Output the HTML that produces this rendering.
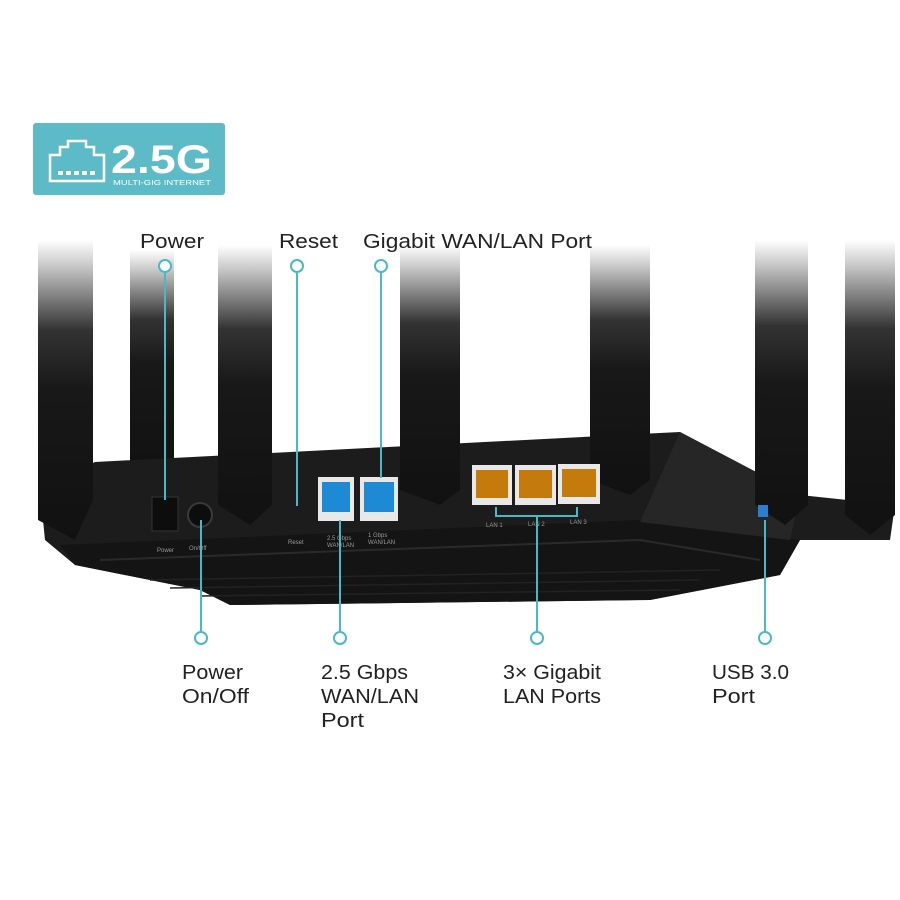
<!DOCTYPE html>
<html><head><meta charset="utf-8"><style>
html,body{margin:0;padding:0;background:#fff}
svg{display:block}
text{font-family:"Liberation Sans",sans-serif}
</style></head><body>
<svg width="900" height="900" viewBox="0 0 900 900" xmlns="http://www.w3.org/2000/svg">
<defs>
<linearGradient id="ant" x1="0" y1="0" x2="0" y2="1">
<stop offset="0" stop-color="#fff"/><stop offset="0.08" stop-color="#ccc"/><stop offset="0.3" stop-color="#333"/><stop offset="0.5" stop-color="#181818"/><stop offset="1" stop-color="#111"/>
</linearGradient>
</defs>
<rect x="33" y="123" width="192" height="72" rx="3" fill="#5cbbc7"/>
<path d="M50 155 h10 v-8 h8 v-6 h18 v6 h8 v8 h10 v26 h-54 z" fill="none" stroke="#fff" stroke-width="2.5"/>
<g fill="#fff"><rect x="58" y="171" width="5" height="4"/><rect x="66" y="171" width="5" height="4"/><rect x="74" y="171" width="5" height="4"/><rect x="82" y="171" width="5" height="4"/><rect x="90" y="171" width="5" height="4"/></g>
<text x="111" y="173" font-size="40" fill="#fff" textLength="101" lengthAdjust="spacingAndGlyphs" style="font-weight:600">2.5G</text>
<text x="113" y="185" font-size="7.5" fill="#fff" textLength="98" lengthAdjust="spacingAndGlyphs">MULTI-GIG INTERNET</text>

<rect x="130" y="250" width="44" height="230" fill="url(#ant)"/>
<path d="M40 490 L95 462 L680 432 L800 495 L895 505 L890 540 L800 540 L780 575 L650 600 L230 605 L200 590 L75 565 L45 540 Z" fill="#1c1c1c"/>
<path d="M60 545 L640 520 L800 540 L780 575 L650 600 L230 605 L200 590 L75 565 Z" fill="#141414"/>
<path d="M680 432 L800 495 L790 540 L640 522 Z" fill="#262626"/>
<path d="M100 560 L640 540 L760 560" stroke="#2a2a2a" stroke-width="2" fill="none"/>
<g stroke="#222" stroke-width="1.5">
<line x1="150" y1="580" x2="720" y2="570"/><line x1="170" y1="588" x2="700" y2="580"/><line x1="200" y1="596" x2="680" y2="590"/>
</g>
<g fill="url(#ant)">
<path d="M38 240 H93 V500 L75 540 L38 520 Z"/>
<path d="M218 245 H272 V505 L250 525 L218 505 Z"/>
<path d="M400 245 H460 V490 L440 505 L400 490 Z"/>
<path d="M590 245 H650 V480 L630 495 L590 480 Z"/>
<path d="M755 240 H808 V505 L785 525 L755 505 Z"/>
<path d="M845 240 H895 V515 L870 535 L845 515 Z"/>
</g>
<rect x="152" y="497" width="26" height="34" fill="#0d0d0d" stroke="#333"/>
<circle cx="200" cy="515" r="12" fill="#0d0d0d" stroke="#3a3a3a" stroke-width="2"/>
<rect x="318" y="477" width="36" height="44" fill="#e8e8e8"/><rect x="322" y="482" width="28" height="30" fill="#1e8ad6"/>
<rect x="360" y="477" width="38" height="44" fill="#e8e8e8"/><rect x="364" y="482" width="30" height="30" fill="#1e8ad6"/>
<rect x="472" y="465" width="40" height="40" fill="#e8e8e8"/><rect x="476" y="470" width="32" height="28" fill="#c57a0c"/>
<rect x="515" y="465" width="41" height="40" fill="#e8e8e8"/><rect x="519" y="470" width="33" height="28" fill="#c57a0c"/>
<rect x="558" y="464" width="42" height="40" fill="#e8e8e8"/><rect x="562" y="469" width="34" height="28" fill="#c57a0c"/>
<rect x="758" y="505" width="10" height="12" fill="#2a7fd0"/>
<g fill="#999" font-size="6"><text x="157" y="552">Power</text><text x="189" y="550">On/Off</text><text x="288" y="544">Reset</text><text x="327" y="540">2.5 Gbps</text><text x="327" y="547">WAN/LAN</text><text x="368" y="537">1 Gbps</text><text x="368" y="544">WAN/LAN</text><text x="486" y="527">LAN 1</text><text x="528" y="526">LAN 2</text><text x="570" y="524">LAN 3</text></g>

<g stroke="#48b9c6" stroke-width="2" fill="#fff">
<line x1="165" y1="272" x2="165" y2="500"/>
<line x1="297" y1="272" x2="297" y2="506"/>
<line x1="381" y1="272" x2="381" y2="478"/>
<line x1="201" y1="632" x2="201" y2="520"/>
<line x1="340" y1="632" x2="340" y2="520"/>
<line x1="537" y1="632" x2="537" y2="516"/>
<polyline points="496,507 496,516 577,516 577,507" fill="none"/>
<line x1="765" y1="632" x2="765" y2="520"/>
<circle cx="165" cy="266" r="6"/><circle cx="297" cy="266" r="6"/><circle cx="381" cy="266" r="6"/>
<circle cx="201" cy="638" r="6"/><circle cx="340" cy="638" r="6"/><circle cx="537" cy="638" r="6"/><circle cx="765" cy="638" r="6"/>
</g>

<g font-size="20" fill="#222">
<text x="140" y="248" textLength="64" lengthAdjust="spacingAndGlyphs">Power</text>
<text x="279" y="248" textLength="59" lengthAdjust="spacingAndGlyphs">Reset</text>
<text x="363" y="248" textLength="229" lengthAdjust="spacingAndGlyphs">Gigabit WAN/LAN Port</text>
<text x="182" y="679" textLength="61" lengthAdjust="spacingAndGlyphs">Power</text><text x="182" y="703" textLength="67" lengthAdjust="spacingAndGlyphs">On/Off</text>
<text x="321" y="679" textLength="87" lengthAdjust="spacingAndGlyphs">2.5 Gbps</text><text x="321" y="703" textLength="98" lengthAdjust="spacingAndGlyphs">WAN/LAN</text><text x="321" y="727" textLength="43" lengthAdjust="spacingAndGlyphs">Port</text>
<text x="503" y="679" textLength="98" lengthAdjust="spacingAndGlyphs">3× Gigabit</text><text x="503" y="703" textLength="98" lengthAdjust="spacingAndGlyphs">LAN Ports</text>
<text x="712" y="679" textLength="77" lengthAdjust="spacingAndGlyphs">USB 3.0</text><text x="712" y="703" textLength="43" lengthAdjust="spacingAndGlyphs">Port</text>
</g>
</svg>
</body></html>
